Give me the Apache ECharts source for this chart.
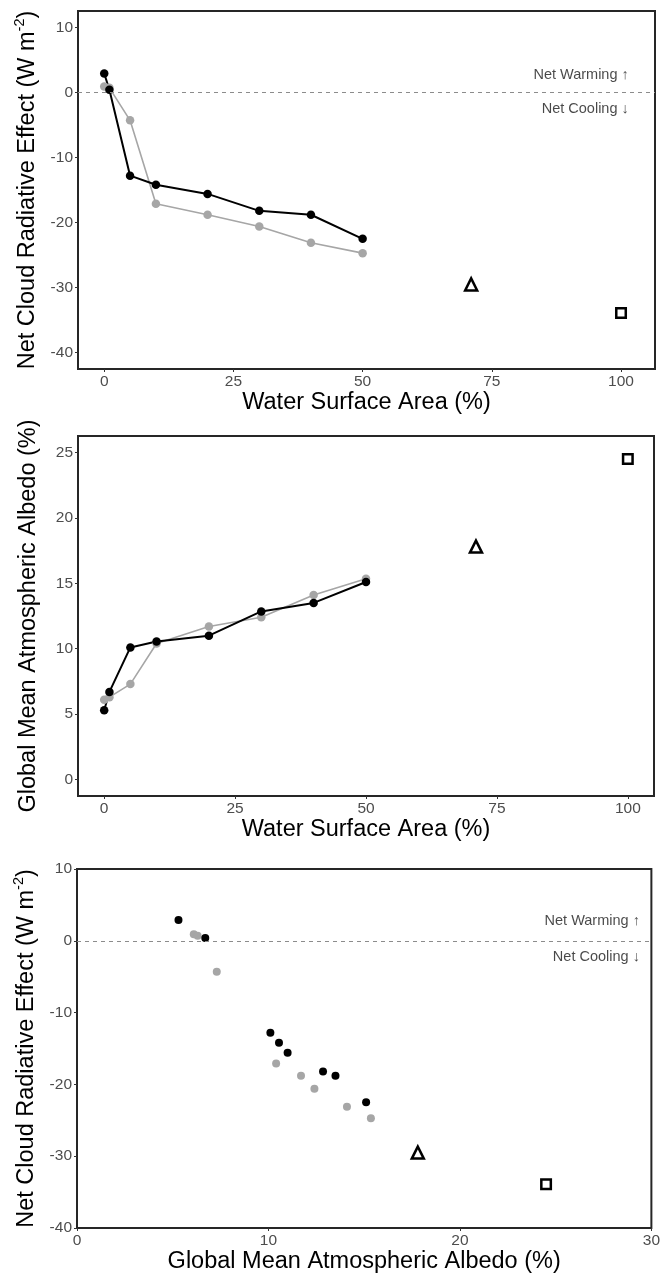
<!DOCTYPE html>
<html>
<head>
<meta charset="utf-8">
<script src="https://cdn.jsdelivr.net/npm/echarts@6/dist/echarts.min.js"></script>
<style>
  html, body { margin: 0; padding: 0; background: #fff; }
  #chart { width: 663px; height: 1277px; }
</style>
</head>
<body>
<div id="chart"></div>
<script>
// Simulated water coverage (%) for the two land-configuration runs
const waterArea = [0, 1, 5, 10, 20, 30, 40, 50];
// Net cloud radiative effect (W m-2)
const creBlack = [2.9, 0.4, -12.8, -14.2, -15.6, -18.2, -18.8, -22.5];
const creGray  = [0.9, 0.7, -4.3, -17.1, -18.8, -20.6, -23.1, -24.7];
// Global mean atmospheric albedo (%)
const albedoBlack = [5.3, 6.7, 10.1, 10.55, 11.0, 12.85, 13.5, 15.1];
const albedoGray  = [6.1, 6.3, 7.3, 10.4, 11.7, 12.4, 14.1, 15.35];
// Reference worlds: Earth-like (triangle) and aquaplanet (square)
const earthRef = { area: 71, cre: -29.5, albedo: 17.8 };
const aquaRef  = { area: 100, cre: -33.9, albedo: 24.5 };

const areaTicks = [0, 25, 50, 75, 100];
const creTicks = [-40, -30, -20, -10, 0, 10];
const albedoTicks = [0, 5, 10, 15, 20, 25];
const warmLabel = 'Net Warming \u2191';
const coolLabel = 'Net Cooling \u2193';

const FONT = '"Liberation Sans", Arial, Helvetica, sans-serif';
const BLACK = '#000000';
const GRAY = '#a6a6a6';
const TICK_COLOR = '#4d4d4d';
const TITLE_SIZE = 23.5;
const TICK_SIZE = 15.5;

const pairs = (xs, ys) => xs.map((x, i) => [x, ys[i]]);

function valueAxis(gridIndex, min, max, ticks, name, extra) {
  const tickStyle = { show: true, length: 3, lineStyle: { color: '#333', width: 1 } };
  const labelStyle = { fontFamily: FONT, fontSize: TICK_SIZE, color: TICK_COLOR, margin: 5 };
  if (ticks) {
    tickStyle.customValues = ticks;
    labelStyle.customValues = ticks;
  }
  return Object.assign({
    type: 'value',
    gridIndex: gridIndex,
    min: min,
    max: max,
    name: name,
    nameLocation: 'middle',
    nameTextStyle: { fontFamily: FONT, fontSize: TITLE_SIZE, color: '#000' },
    axisLine: { show: false, onZero: false },
    axisTick: tickStyle,
    axisLabel: labelStyle,
    splitLine: { show: false }
  }, extra || {});
}

const creName = '{n|Net Cloud Radiative Effect (W m}{s|-2}{n|)}';
const creRich = {
  n: { fontFamily: FONT, fontSize: TITLE_SIZE, color: '#000', lineHeight: 27, verticalAlign: 'bottom' },
  s: { fontFamily: FONT, fontSize: 14.5, color: '#000', lineHeight: 14, verticalAlign: 'top' }
};

function lineSeries(xi, yi, xs, ys, color, width) {
  return {
    type: 'line', xAxisIndex: xi, yAxisIndex: yi,
    data: pairs(xs, ys),
    symbol: 'circle', symbolSize: 8.5,
    lineStyle: { color: color, width: width },
    itemStyle: { color: color, opacity: 1 },
    animation: false, z: 3
  };
}

function dotSeries(xi, yi, xs, ys, color) {
  return {
    type: 'scatter', xAxisIndex: xi, yAxisIndex: yi,
    data: pairs(xs, ys), symbol: 'circle', symbolSize: 8,
    itemStyle: { color: color, opacity: 1 }, animation: false, z: 3
  };
}

function refSeries(xi, yi, x, y, shape, size) {
  return {
    type: 'scatter', xAxisIndex: xi, yAxisIndex: yi,
    data: [[x, y]], symbol: shape, symbolSize: size,
    itemStyle: { color: '#fff', borderColor: '#000', borderWidth: 2.5, opacity: 1 },
    animation: false, z: 4
  };
}

function zeroLine(xi, yi) {
  return {
    type: 'line', xAxisIndex: xi, yAxisIndex: yi, data: [],
    markLine: {
      silent: true, symbol: ['none', 'none'], animation: false,
      label: { show: false },
      lineStyle: { color: '#8c8c8c', type: [4, 4], width: 1 },
      data: [{ yAxis: 0 }]
    }
  };
}

function notes(xi, yi, x, yUp, yDown) {
  return {
    type: 'scatter', xAxisIndex: xi, yAxisIndex: yi,
    symbolSize: 1, itemStyle: { color: 'rgba(0,0,0,0)' },
    data: [
      { value: [x, yUp], label: { formatter: warmLabel } },
      { value: [x, yDown], label: { formatter: coolLabel } }
    ],
    label: { show: true, position: 'inside', align: 'right', verticalAlign: 'middle',
             fontFamily: FONT, fontSize: 14.5, color: '#1a1a1a' },
    animation: false, silent: true, z: 2
  };
}

const gridBase = { show: true, borderColor: '#262626', borderWidth: 2, backgroundColor: 'transparent' };

const option = {
  backgroundColor: '#ffffff',
  animation: false,
  grid: [
    Object.assign({ left: 78, top: 11, width: 577, height: 358 }, gridBase),
    Object.assign({ left: 78, top: 436, width: 576, height: 360 }, gridBase),
    Object.assign({ left: 77, top: 869, width: 579, height: 359 }, gridBase)
  ],
  xAxis: [
    valueAxis(0, -5.075, 106.575, areaTicks, 'Water Surface Area (%)', { nameGap: 22 }),
    valueAxis(1, -5, 105, areaTicks, 'Water Surface Area (%)', { nameGap: 22 }),
    valueAxis(2, 0, 30, null, 'Global Mean Atmospheric Albedo (%)', { interval: 10, nameGap: 22 })
  ],
  yAxis: [
    valueAxis(0, -42.5, 12.5, creTicks, creName, { nameGap: 37, nameTextStyle: { rich: creRich } }),
    valueAxis(1, -1.25, 26.25, albedoTicks, 'Global Mean Atmospheric Albedo (%)', { nameGap: 37 }),
    valueAxis(2, -40, 10, null, creName, { interval: 10, nameGap: 37, nameTextStyle: { rich: creRich } })
  ],
  series: [
    // Panel 1: cloud radiative effect vs water area
    zeroLine(0, 0),
    notes(0, 0, 101.5, 2.6, -2.5),
    lineSeries(0, 0, waterArea, creGray, GRAY, 1.6),
    lineSeries(0, 0, waterArea, creBlack, BLACK, 2),
    refSeries(0, 0, earthRef.area, earthRef.cre, 'triangle', 12),
    refSeries(0, 0, aquaRef.area, aquaRef.cre, 'rect', 9.5),
    // Panel 2: albedo vs water area
    lineSeries(1, 1, waterArea, albedoGray, GRAY, 1.6),
    lineSeries(1, 1, waterArea, albedoBlack, BLACK, 2),
    refSeries(1, 1, earthRef.area, earthRef.albedo, 'triangle', 12),
    refSeries(1, 1, aquaRef.area, aquaRef.albedo, 'rect', 9.5),
    // Panel 3: cloud radiative effect vs albedo
    zeroLine(2, 2),
    notes(2, 2, 29.4, 2.8, -2.3),
    dotSeries(2, 2, albedoGray, creGray, GRAY),
    dotSeries(2, 2, albedoBlack, creBlack, BLACK),
    refSeries(2, 2, earthRef.albedo, earthRef.cre, 'triangle', 12),
    refSeries(2, 2, aquaRef.albedo, aquaRef.cre, 'rect', 9.5)
  ]
};

const chart = echarts.init(document.getElementById('chart'), null, { renderer: 'canvas' });
chart.setOption(option);
</script>
</body>
</html>
